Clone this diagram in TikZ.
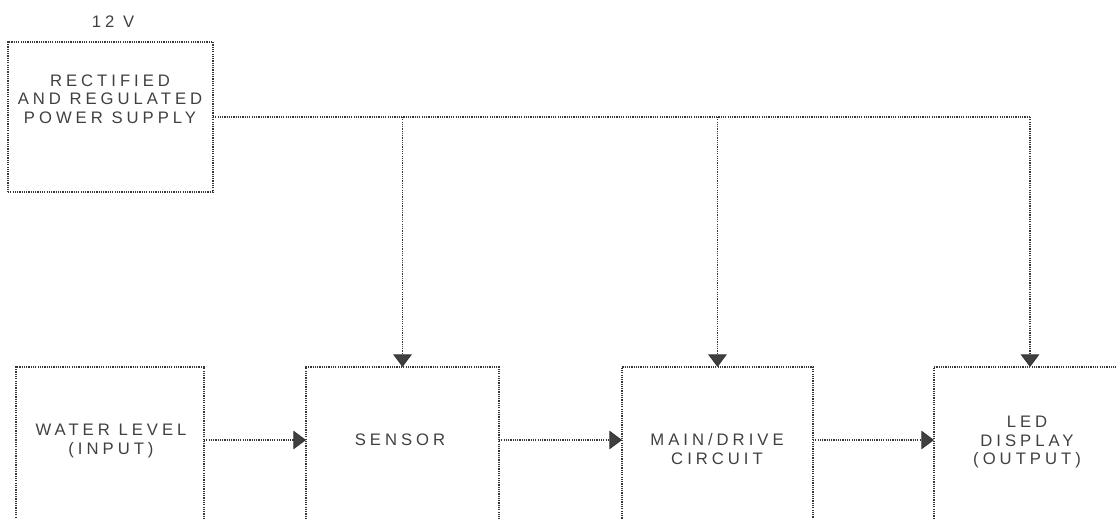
\documentclass[tikz,border=0pt]{standalone}
\usepackage{fontspec}
\setmainfont{Liberation Sans}
\newfontfamily\labfont[LetterSpace=24]{Liberation Sans}
\usetikzlibrary{arrows.meta}
\tikzset{
  box/.style={draw=black!78, line width=0.9pt, dash pattern=on 0.9pt off 0.8pt, rectangle, inner sep=0pt, outer sep=0pt},
  conn/.style={draw=black!78, line width=0.9pt, dash pattern=on 0.9pt off 0.8pt},
  arr/.style={conn, -{Triangle[width=14pt,length=9.5pt,fill=black!75]}},
  lbl/.style={text=black!75, font=\labfont\fontsize{12.5pt}{14pt}\selectfont, align=center, inner sep=0pt}
}
\begin{document}
\begin{tikzpicture}[x=0.75pt,y=-0.75pt]
\useasboundingbox (0,0) rectangle (1116,518);
\clip (0,0) rectangle (1116,518);
% boxes
\node[box, minimum width=153.75pt, minimum height=112.5pt] (power) at (110.5,117) {};
\node[box, minimum width=141pt, minimum height=144.75pt] (water) at (110,463.5) {};
\node[box, minimum width=144.75pt, minimum height=144.75pt] (sensor) at (402.5,463.5) {};
\node[box, minimum width=143.25pt, minimum height=144.75pt] (main) at (717.5,463.5) {};
\node[box, minimum width=144pt, minimum height=144.75pt] (led) at (1030,463.5) {};
% texts
\node[lbl] (volt) at (113,22) {12 V};
\node[lbl] (ptext) at (110,99) {RECTIFIED\\AND REGULATED\\POWER SUPPLY};
\node[lbl] (wtext) at (111,441) {WATER LEVEL\\(INPUT)};
\node[lbl] (stext) at (400,440) {SENSOR};
\node[lbl] (mtext) at (717,449) {MAIN/DRIVE\\CIRCUIT};
\node[lbl] (ltext) at (1027,442) {LED\\DISPLAY\\(OUTPUT)};
% power bus
\draw[conn] (power.east) -- (power.east -| led.north);
\draw[arr] (power.east -| sensor.north) -- (sensor.north);
\draw[arr] (power.east -| main.north) -- (main.north);
\draw[arr] (power.east -| led.north) -- (led.north);
% signal chain
\draw[arr] (water.east |- stext) -- (sensor.west |- stext);
\draw[arr] (sensor.east |- stext) -- (main.west |- stext);
\draw[arr] (main.east |- stext) -- (led.west |- stext);
\end{tikzpicture}
\end{document}
